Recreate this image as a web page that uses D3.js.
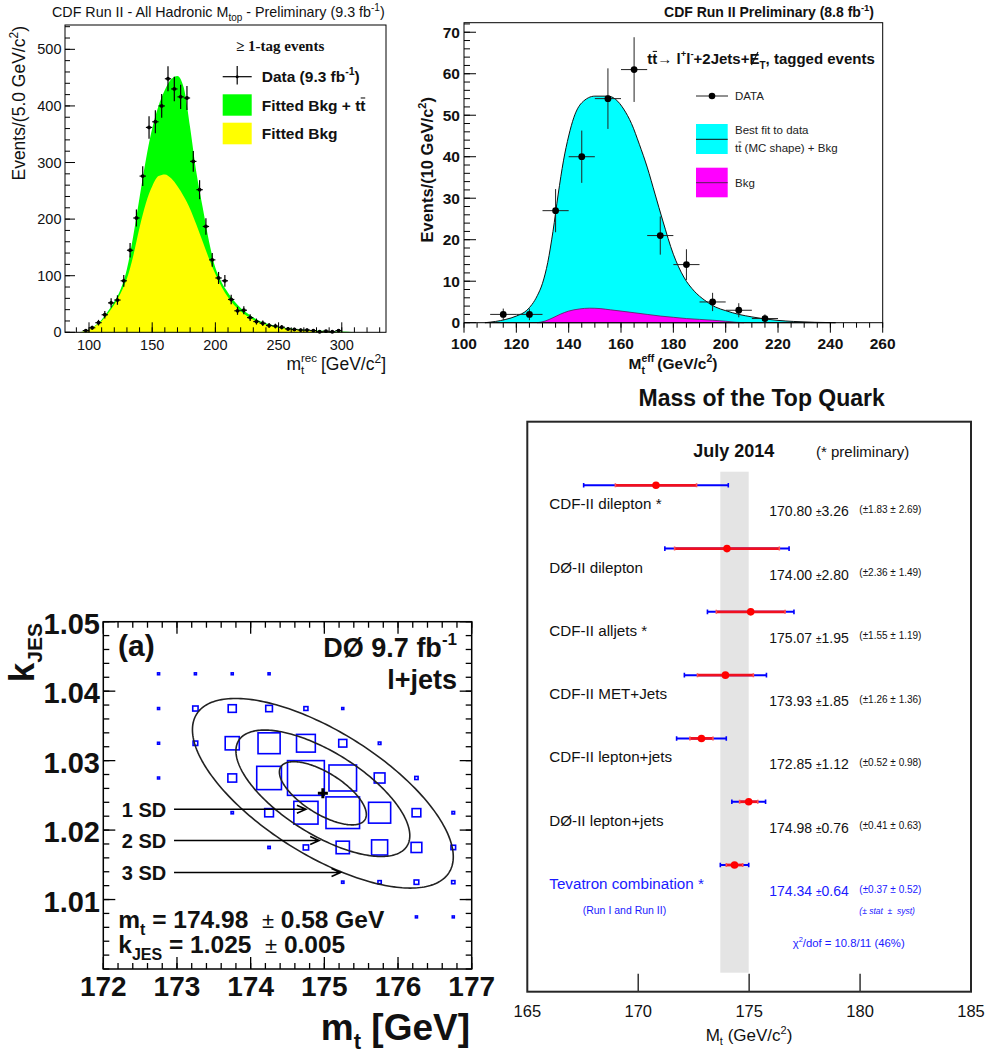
<!DOCTYPE html>
<html>
<head>
<meta charset="utf-8">
<script src="https://cdn.jsdelivr.net/npm/d3@7"></script>
<style>
  body { margin: 0; background: #fff; }
  svg { display: block; }
  text { white-space: pre; }
</style>
</head>
<body>
<svg id="c" width="993" height="1055"></svg>
<script>
// ---------- All-hadronic reconstructed top mass (>= 1 tag) ----------
const hadCenters = [97.5, 102.5, 107.5, 112.5, 117.5, 122.5, 127.5, 132.5, 137.5, 142.5, 147.5, 152.5, 157.5, 162.5, 167.5, 172.5, 177.5, 182.5, 187.5, 192.5, 197.5, 202.5, 207.5, 212.5, 217.5, 222.5, 227.5, 232.5, 237.5, 242.5, 247.5, 252.5, 257.5, 262.5, 267.5, 272.5, 277.5, 282.5, 287.5, 292.5, 297.5];
const hadCounts = [3, 8, 17, 31, 52, 57, 91, 145, 202, 276, 362, 372, 400, 448, 430, 416, 414, 302, 252, 187, 128, 96, 91, 58, 38, 39, 26, 19, 16, 12, 11, 9, 6, 5, 4, 4, 3, 1, 2, 1, 3];
const hadErrors = [1.7, 2.8, 4.1, 5.6, 7.2, 7.5, 9.5, 12, 14.2, 16.6, 19, 19.3, 20, 21.2, 20.7, 20.4, 20.3, 17.4, 15.9, 13.7, 11.3, 9.8, 9.5, 7.6, 6.2, 6.2, 5.1, 4.4, 4, 3.5, 3.3, 3, 2.4, 2.2, 2, 2, 1.7, 1, 1.4, 1, 1.7];
const hadFitX = [92, 95, 100, 105, 110, 115, 120, 125, 130, 135, 140, 145, 150, 155, 160, 165, 170, 175, 180, 185, 190, 195, 200, 205, 210, 215, 220, 225, 230, 235, 240, 245, 250, 255, 260, 270, 280, 290, 300, 310];
const hadFitTotal = [0, 1, 5, 12, 22, 37, 54, 76, 112, 170, 238, 305, 360, 400, 428, 447, 453, 432, 362, 282, 220, 160, 114, 88, 70, 55, 43, 34, 26, 20, 16, 13, 10, 8, 6.5, 4.5, 3, 2, 1.2, 0];
const hadFitBkg = [0, 1, 5, 11, 20, 33, 49, 69, 95, 135, 185, 228, 258, 276, 279, 272, 258, 240, 218, 190, 160, 130, 103, 80, 62, 48, 37, 29, 22, 17, 13.5, 10.5, 8.2, 6.5, 5.2, 3.3, 2, 1, 0.5, 0];
const hadYTicks = [0, 100, 200, 300, 400, 500];
const hadXTicks = [100, 150, 200, 250, 300];

// ---------- Dilepton M_t^eff (tagged) ----------
const dilepCenters = [115, 125, 135, 145, 155, 165, 175, 185, 195, 205, 215];
const dilepCounts = [2, 2, 27, 40, 54, 61, 21, 14, 5, 3, 1];
const dilepErrors = [1.4, 1.4, 5.2, 6.3, 7.3, 7.8, 4.6, 3.7, 2.2, 1.7, 1];
const dilepFitX = [108, 112, 116, 120, 124, 128, 130, 132, 134, 136, 138, 140, 142, 145, 150, 155, 158, 161, 164, 167, 170, 173, 176, 180, 184, 188, 192, 196, 200, 205, 210, 215, 220, 226, 234, 242];
const dilepFitTotal = [0, 0.3, 0.8, 1.6, 3, 6.5, 9.5, 14.5, 22, 31, 39, 45, 49.5, 53, 54.6, 54.6, 53.8, 51.5, 48, 43, 37.5, 31, 24.5, 16.5, 11, 7.6, 5.4, 3.8, 2.9, 2, 1.4, 0.9, 0.55, 0.3, 0.1, 0];
const dilepBkgX = [128, 131, 134, 137, 140, 144, 148, 152, 156, 160, 165, 170, 175, 180, 185, 190, 195, 200, 204, 207];
const dilepBkg = [0, 0.4, 1.2, 2.1, 2.8, 3.3, 3.5, 3.4, 3.1, 2.8, 2.4, 2.0, 1.6, 1.3, 1.0, 0.8, 0.6, 0.35, 0.1, 0];
const dilepYTicks = [0, 10, 20, 30, 40, 50, 60, 70];
const dilepXTicks = [100, 120, 140, 160, 180, 200, 220, 240, 260];

// ---------- D0 l+jets: m_t vs k_JES likelihood ----------
const boxMt = [172.75, 173.25, 173.75, 174.25,
  172.75, 173.25, 173.75, 174.25, 174.75, 175.25,
  172.75, 173.25, 173.75, 174.25, 174.75, 175.25, 175.75,
  172.75, 173.75, 174.25, 174.75, 175.25, 175.75, 176.25,
  173.75, 174.25, 174.75, 175.25, 175.75, 176.25, 176.75,
  174.25, 174.75, 175.25, 175.75, 176.25, 176.75,
  175.25, 175.75, 176.25, 176.75,
  176.25, 176.75];
const boxK = [1.0425, 1.0425, 1.0425, 1.0425,
  1.0375, 1.0375, 1.0375, 1.0375, 1.0375, 1.0375,
  1.0325, 1.0325, 1.0325, 1.0325, 1.0325, 1.0325, 1.0325,
  1.0275, 1.0275, 1.0275, 1.0275, 1.0275, 1.0275, 1.0275,
  1.0225, 1.0225, 1.0225, 1.0225, 1.0225, 1.0225, 1.0225,
  1.0175, 1.0175, 1.0175, 1.0175, 1.0175, 1.0175,
  1.0125, 1.0125, 1.0125, 1.0125,
  1.0075, 1.0075];
const boxContent = [0.3, 0.3, 0.3, 0.3,
  0.3, 2.1, 4.8, 3.3, 1.2, 0.3,
  0.3, 1.6, 14.6, 36, 26, 4.8, 0.5,
  0.3, 5.6, 45, 100, 56, 8.5, 0.8,
  0.4, 5.6, 43, 83, 36, 5.6, 0.5,
  0.4, 2.1, 13, 19, 8.5, 1.6,
  0.4, 0.8, 1.6, 0.8,
  0.3, 0.3];
const fitMt = 174.98, fitK = 1.0253, sigmaMt = 0.59, sigmaK = 0.00455, rhoMtK = -0.67;
const contourLevels = [1, 2, 3];
const sdLabels = ["1 SD", "2 SD", "3 SD"];
const sdArrowK = [1.023, 1.0185, 1.0139];
const sdArrowTipMt = [174.75, 174.93, 175.22];
const mtTicks = [172, 173, 174, 175, 176, 177];
const kTicks = [1.01, 1.02, 1.03, 1.04, 1.05];

// ---------- Tevatron top-quark mass summary ----------
const expNames = ["CDF-II dilepton *", "DØ-II dilepton", "CDF-II alljets *", "CDF-II MET+Jets", "CDF-II lepton+jets", "DØ-II lepton+jets", "Tevatron combination *"];
const expMass = [170.80, 174.00, 175.07, 173.93, 172.85, 174.98, 174.34];
const expTotal = [3.26, 2.80, 1.95, 1.85, 1.12, 0.76, 0.64];
const expStat = [1.83, 2.36, 1.55, 1.26, 0.52, 0.41, 0.37];
const expSyst = [2.69, 1.49, 1.19, 1.36, 0.98, 0.63, 0.52];
const massTicks = [165, 170, 175, 180, 185];

// ---------- helpers ----------
const FONT = '"Liberation Sans", Arial, Helvetica, sans-serif';
const svg = d3.select('#c');

// Draws a run of text pieces (sub/superscripts, overbars, slashes) left to right.
function rich(parent, x, y, parts, opt = {}) {
  const outer = parent.append('g')
    .attr('transform', `translate(${x},${y})` + (opt.rotate ? ` rotate(${opt.rotate})` : ''));
  const g = outer.append('g');
  let cx = 0, stack = null;
  const base = opt.size || 12;
  for (const p of parts) {
    const size = p.size || base;
    const dy = p.dy || 0;
    const color = p.fill || opt.fill || '#000';
    const t = g.append('text').attr('x', cx).attr('y', dy).text(p.t)
      .attr('font-family', p.family || opt.family || FONT)
      .attr('font-size', size)
      .attr('font-weight', p.weight || opt.weight || 'normal')
      .attr('font-style', (p.italic || opt.italic) ? 'italic' : 'normal')
      .attr('fill', color);
    const w = t.node().getComputedTextLength();
    if (p.overline) {
      g.append('line').attr('x1', cx + w * 0.08).attr('x2', cx + w * 0.95)
        .attr('y1', dy - size * 0.84).attr('y2', dy - size * 0.84)
        .attr('stroke', color).attr('stroke-width', size * 0.07);
    }
    if (p.slash) {
      g.append('line').attr('x1', cx + w * 0.2).attr('x2', cx + w * 0.85)
        .attr('y1', dy + size * 0.06).attr('y2', dy - size * 0.8)
        .attr('stroke', color).attr('stroke-width', size * 0.08);
    }
    if (p.stack) stack = { x: cx, w };
    else if (stack) { cx = stack.x + Math.max(stack.w, w); stack = null; }
    else cx += w;
    cx += p.gap || 0;
  }
  const shift = opt.anchor === 'end' ? -cx : opt.anchor === 'middle' ? -cx / 2 : 0;
  g.attr('transform', `translate(${shift},0)`);
  return outer;
}

function vTicks(g, scale, vals, y0, len, sw, color) {
  g.append('g').selectAll('line').data(vals).join('line')
    .attr('x1', d => scale(d)).attr('x2', d => scale(d))
    .attr('y1', y0).attr('y2', y0 + len)
    .attr('stroke', color || '#000').attr('stroke-width', sw || 1);
}
function hTicks(g, scale, vals, x0, len, sw, color) {
  g.append('g').selectAll('line').data(vals).join('line')
    .attr('y1', d => scale(d)).attr('y2', d => scale(d))
    .attr('x1', x0).attr('x2', x0 + len)
    .attr('stroke', color || '#000').attr('stroke-width', sw || 1);
}
const step = (a, b, s) => d3.range(Math.round(a / s), Math.round(b / s) + 1).map(i => +(i * s).toFixed(6));

// =========================================================
// Panel: CDF all-hadronic
// =========================================================
{
  const P = { l: 65, r: 386, t: 25, b: 332.3 };
  const x = d3.scaleLinear().domain([81, 335]).range([P.l, P.r]);
  const y = d3.scaleLinear().domain([0, 543]).range([P.b, P.t]);
  const g = svg.append('g');
  const fit = hadFitX.map((v, i) => ({ x: v, tot: hadFitTotal[i], bkg: hadFitBkg[i] }));

  g.append('path').datum(fit)
    .attr('d', d3.area().x(d => x(d.x)).y0(y(0)).y1(d => y(d.tot)).curve(d3.curveMonotoneX))
    .attr('fill', '#00ff00');
  g.append('path').datum(fit)
    .attr('d', d3.area().x(d => x(d.x)).y0(y(0)).y1(d => y(d.bkg)).curve(d3.curveMonotoneX))
    .attr('fill', '#ffff00');

  // data points with error bars
  const pts = g.append('g').attr('stroke', '#000').attr('stroke-width', 1.2);
  hadCenters.forEach((c, i) => {
    const n = hadCounts[i], e = hadErrors[i];
    pts.append('line').attr('x1', x(c)).attr('x2', x(c)).attr('y1', y(n - e) + 0.5).attr('y2', y(n + e) - 0.5);
    pts.append('line').attr('x1', x(c - 2.5)).attr('x2', x(c + 2.5)).attr('y1', y(n)).attr('y2', y(n));
    pts.append('circle').attr('cx', x(c)).attr('cy', y(n)).attr('r', 1.3).attr('fill', '#000');
  });

  g.append('rect').attr('x', P.l).attr('y', P.t).attr('width', P.r - P.l).attr('height', P.b - P.t)
    .attr('fill', 'none').attr('stroke', '#000').attr('stroke-width', 1);
  hTicks(g, y, step(0, 540, 20), P.l, 5);
  hTicks(g, y, hadYTicks, P.l, 10);
  vTicks(g, x, step(90, 330, 10), P.b, -5);
  vTicks(g, x, hadXTicks, P.b, -10);

  g.append('g').selectAll('text').data(hadYTicks).join('text')
    .attr('x', 61.5).attr('y', d => y(d) + 5).attr('text-anchor', 'end')
    .attr('font-family', FONT).attr('font-size', 14.5).attr('fill', '#111').text(d => d);
  g.append('g').selectAll('text').data(hadXTicks).join('text')
    .attr('x', d => x(d)).attr('y', 350).attr('text-anchor', 'middle')
    .attr('font-family', FONT).attr('font-size', 14.5).attr('fill', '#111').text(d => d);

  rich(g, 52, 16.5, [
    { t: 'CDF Run II - All Hadronic M' }, { t: 'top', size: 10, dy: 4 },
    { t: ' - Preliminary (9.3 fb' }, { t: '-1', size: 10, dy: -6 }, { t: ')' }
  ], { size: 14.3, fill: '#111' });

  rich(g, 25, 26, [
    { t: 'Events/(5.0 GeV/c' }, { t: '2', size: 12, dy: -7 }, { t: ')' }
  ], { size: 17.5, rotate: -90, anchor: 'end', fill: '#111' });

  rich(g, 386, 370, [
    { t: 'm' }, { t: 'rec', size: 11.5, dy: -8, stack: true }, { t: 't', size: 11.5, dy: 4, gap: 4 },
    { t: '[GeV/c' }, { t: '2', size: 12, dy: -7 }, { t: ']' }
  ], { size: 17.5, anchor: 'end', fill: '#111' });

  // legend
  rich(g, 236, 50.5, [{ t: '≥ 1-tag events' }],
    { size: 15, weight: 'bold', family: '"Liberation Serif", "Times New Roman", serif', fill: '#111' });
  const lg = g.append('g');
  lg.append('line').attr('x1', 222.7).attr('x2', 251.7).attr('y1', 76.7).attr('y2', 76.7).attr('stroke', '#000').attr('stroke-width', 1.2);
  lg.append('line').attr('x1', 237.2).attr('x2', 237.2).attr('y1', 66).attr('y2', 84.5).attr('stroke', '#000').attr('stroke-width', 1.2);
  lg.append('circle').attr('cx', 237.2).attr('cy', 76.7).attr('r', 1.5).attr('fill', '#000');
  lg.append('rect').attr('x', 222.7).attr('y', 94.3).attr('width', 29).attr('height', 21.4).attr('fill', '#00ff00');
  lg.append('rect').attr('x', 222.7).attr('y', 122.7).attr('width', 29).attr('height', 21.6).attr('fill', '#ffff00');
  rich(g, 261.7, 82, [{ t: 'Data (9.3 fb' }, { t: '-1', size: 10.5, dy: -7 }, { t: ')' }], { size: 15.5, weight: 'bold', fill: '#111' });
  rich(g, 261.7, 111, [{ t: 'Fitted Bkg + t' }, { t: 't', overline: true }], { size: 15.5, weight: 'bold', fill: '#111' });
  rich(g, 261.7, 138.5, [{ t: 'Fitted Bkg' }], { size: 15.5, weight: 'bold', fill: '#111' });
}

// =========================================================
// Panel: CDF dilepton M_t^eff
// =========================================================
{
  const P = { l: 464, r: 882.7, t: 22.7, b: 322.7 };
  const x = d3.scaleLinear().domain([100, 260]).range([P.l, P.r]);
  const y = d3.scaleLinear().domain([0, 72.3]).range([P.b, P.t]);
  const g = svg.append('g');
  const tot = dilepFitX.map((v, i) => ({ x: v, y: dilepFitTotal[i] }));
  const bkg = dilepBkgX.map((v, i) => ({ x: v, y: dilepBkg[i] }));
  const area = d3.area().x(d => x(d.x)).y0(y(0)).y1(d => y(d.y)).curve(d3.curveMonotoneX);
  g.append('path').datum(tot).attr('d', area).attr('fill', '#00ffff').attr('stroke', '#111').attr('stroke-width', 1);
  g.append('path').datum(bkg).attr('d', area).attr('fill', '#ff00ff').attr('stroke', '#552255').attr('stroke-width', 0.8);

  const pts = g.append('g').attr('stroke', '#222').attr('stroke-width', 1);
  dilepCenters.forEach((c, i) => {
    const n = dilepCounts[i], e = dilepErrors[i];
    pts.append('line').attr('x1', x(c)).attr('x2', x(c)).attr('y1', y(n - e)).attr('y2', y(n + e));
    pts.append('line').attr('x1', x(c - 5)).attr('x2', x(c + 5)).attr('y1', y(n)).attr('y2', y(n));
    pts.append('circle').attr('cx', x(c)).attr('cy', y(n)).attr('r', 3.4).attr('fill', '#000').attr('stroke', 'none');
  });

  g.append('rect').attr('x', P.l).attr('y', P.t).attr('width', P.r - P.l).attr('height', P.b - P.t)
    .attr('fill', 'none').attr('stroke', '#000').attr('stroke-width', 1);
  hTicks(g, y, step(0, 72, 2), P.l, 6);
  hTicks(g, y, dilepYTicks, P.l, 12);
  vTicks(g, x, step(100, 260, 5), P.b, 5);
  vTicks(g, x, dilepXTicks, P.b, 10);

  g.append('g').selectAll('text').data(dilepYTicks).join('text')
    .attr('x', 460).attr('y', d => y(d) + 5.5).attr('text-anchor', 'end')
    .attr('font-family', FONT).attr('font-size', 15.5).attr('font-weight', 'bold').attr('fill', '#111').text(d => d);
  g.append('g').selectAll('text').data(dilepXTicks).join('text')
    .attr('x', d => x(d)).attr('y', 348.5).attr('text-anchor', 'middle')
    .attr('font-family', FONT).attr('font-size', 15.5).attr('font-weight', 'bold').attr('fill', '#111').text(d => d);

  rich(g, 874, 17, [{ t: 'CDF Run II Preliminary (8.8 fb' }, { t: '-1', size: 9.5, dy: -6 }, { t: ')' }],
    { size: 14, weight: 'bold', anchor: 'end', fill: '#111' });
  rich(g, 433, 97, [{ t: 'Events/(10 GeV/c' }, { t: '2', size: 11, dy: -7 }, { t: ')' }],
    { size: 16.5, weight: 'bold', rotate: -90, anchor: 'end', fill: '#111' });
  rich(g, 673, 369, [
    { t: 'M' }, { t: 'eff', size: 10.5, dy: -7, stack: true }, { t: 't', size: 10.5, dy: 5, gap: 3 },
    { t: '(GeV/c' }, { t: '2', size: 10.5, dy: -7 }, { t: ')' }
  ], { size: 15.5, weight: 'bold', anchor: 'middle', fill: '#111' });

  rich(g, 647.3, 64, [
    { t: 't' }, { t: 't', overline: true }, { t: '→ ', weight: 'normal' }, { t: 'l' }, { t: '+', size: 9.5, dy: -7 }, { t: 'l' }, { t: '-', size: 9.5, dy: -7 },
    { t: '+2Jets+' }, { t: 'E', slash: true }, { t: 'T', size: 10, dy: 5 }, { t: ', tagged events' }
  ], { size: 15, weight: 'bold', fill: '#111' });

  const lg = g.append('g');
  lg.append('line').attr('x1', 696).attr('x2', 728).attr('y1', 96).attr('y2', 96).attr('stroke', '#222');
  lg.append('circle').attr('cx', 712).attr('cy', 96).attr('r', 3.3).attr('fill', '#000');
  lg.append('rect').attr('x', 696).attr('y', 124).attr('width', 31.7).attr('height', 30).attr('fill', '#00ffff');
  lg.append('line').attr('x1', 696).attr('x2', 727.7).attr('y1', 139.3).attr('y2', 139.3).attr('stroke', '#111');
  lg.append('rect').attr('x', 696).attr('y', 167.7).attr('width', 31.7).attr('height', 29.6).attr('fill', '#ff00ff');
  lg.append('line').attr('x1', 696).attr('x2', 727.7).attr('y1', 182.7).attr('y2', 182.7).attr('stroke', '#552255');
  rich(g, 735, 100, [{ t: 'DATA' }], { size: 11.5, fill: '#222' });
  rich(g, 735, 134, [{ t: 'Best fit to data' }], { size: 11.5, fill: '#222' });
  rich(g, 735, 151.7, [{ t: 't' }, { t: 't', overline: true }, { t: ' (MC shape) + Bkg' }], { size: 11.5, fill: '#222' });
  rich(g, 735, 187.3, [{ t: 'Bkg' }], { size: 11.5, fill: '#222' });
}

// =========================================================
// Panel: D0 l+jets (m_t, k_JES)
// =========================================================
{
  const P = { l: 103.3, r: 471.7, t: 621.7, b: 969 };
  const x = d3.scaleLinear().domain([172, 177]).range([P.l, P.r]);
  const y = d3.scaleLinear().domain([1.0, 1.05]).range([P.b, P.t]);
  const g = svg.append('g');
  const cellW = x(172.5) - x(172), cellH = y(1.0) - y(1.005);
  const frac = d3.scaleSqrt().domain([0, 100]).range([0, 1]);

  g.append('g').selectAll('rect').data(boxMt.map((m, i) => ({ m, k: boxK[i], c: boxContent[i] }))).join('rect')
    .attr('x', d => x(d.m) - Math.max(frac(d.c) * cellW, 1.6) / 2)
    .attr('y', d => y(d.k) - Math.max(frac(d.c) * cellH, 1.6) / 2)
    .attr('width', d => Math.max(frac(d.c) * cellW, 1.6))
    .attr('height', d => Math.max(frac(d.c) * cellH, 1.6))
    .attr('fill', 'none').attr('stroke', '#0000ff').attr('stroke-width', 1.6);

  // n-SD contours of the correlated Gaussian fit
  const ell = d3.line().x(d => x(d[0])).y(d => y(d[1])).curve(d3.curveLinearClosed);
  contourLevels.forEach(n => {
    const pts = d3.range(0, 240).map(i => {
      const t = i / 240 * 2 * Math.PI;
      return [fitMt + n * sigmaMt * Math.cos(t),
              fitK + n * sigmaK * (rhoMtK * Math.cos(t) + Math.sqrt(1 - rhoMtK * rhoMtK) * Math.sin(t))];
    });
    g.append('path').attr('d', ell(pts)).attr('fill', 'none').attr('stroke', '#222').attr('stroke-width', 1.6);
  });
  // best fit marker
  g.append('path').attr('d', `M${x(fitMt) - 5},${y(fitK)}H${x(fitMt) + 5}M${x(fitMt)},${y(fitK) - 5}V${y(fitK) + 5}`)
    .attr('stroke', '#000').attr('stroke-width', 3);

  // SD arrows
  sdLabels.forEach((lab, i) => {
    const yy = y(sdArrowK[i]);
    const x0 = x(172.96), x1 = x(sdArrowTipMt[i]);
    g.append('path').attr('d', `M${x0},${yy}H${x1}M${x1 - 9},${yy - 4}L${x1},${yy}L${x1 - 9},${yy + 4}`)
      .attr('fill', 'none').attr('stroke', '#000').attr('stroke-width', 1.6);
    rich(g, x(172.25), yy + 7.5, [{ t: lab }], { size: 20, weight: 'bold', fill: '#111' });
  });

  g.append('rect').attr('x', P.l).attr('y', P.t).attr('width', P.r - P.l).attr('height', P.b - P.t)
    .attr('fill', 'none').attr('stroke', '#000').attr('stroke-width', 1.5);
  const minorM = step(172, 177, 0.2), minorK = step(1.0, 1.05, 0.002);
  vTicks(g, x, minorM, P.b, -6, 1.3); vTicks(g, x, mtTicks, P.b, -12, 1.3);
  vTicks(g, x, minorM, P.t, 6, 1.3); vTicks(g, x, mtTicks, P.t, 12, 1.3);
  hTicks(g, y, minorK, P.l, 6, 1.3); hTicks(g, y, kTicks, P.l, 12, 1.3);
  hTicks(g, y, minorK, P.r, -6, 1.3); hTicks(g, y, kTicks, P.r, -12, 1.3);

  g.append('g').selectAll('text').data(mtTicks).join('text')
    .attr('x', d => x(d)).attr('y', 996).attr('text-anchor', 'middle')
    .attr('font-family', FONT).attr('font-size', 28).attr('font-weight', 'bold').attr('fill', '#111').text(d => d);
  g.append('g').selectAll('text').data(kTicks).join('text')
    .attr('x', 100).attr('y', d => y(d) + 12).attr('text-anchor', 'end')
    .attr('font-family', FONT).attr('font-size', 29).attr('font-weight', 'bold').attr('fill', '#111').text(d => d.toFixed(2));

  rich(g, 34, 623, [{ t: 'k' }, { t: 'JES', size: 21, dy: 8 }],
    { size: 35, weight: 'bold', rotate: -90, anchor: 'end', fill: '#111' });
  rich(g, 470, 1040, [{ t: 'm' }, { t: 't', size: 22, dy: 9 }, { t: ' [GeV]' }],
    { size: 37, weight: 'bold', anchor: 'end', fill: '#111' });

  rich(g, 118, 656, [{ t: '(a)' }], { size: 30, weight: 'bold', fill: '#111' });
  rich(g, 457, 657, [{ t: 'DØ 9.7 fb' }, { t: '-1', size: 17, dy: -12 }], { size: 27, weight: 'bold', anchor: 'end', fill: '#111' });
  rich(g, 457, 689, [{ t: 'l+jets' }], { size: 27, weight: 'bold', anchor: 'end', fill: '#111' });

  rich(g, 118.3, 928.3, [
    { t: 'm' }, { t: 't', size: 16, dy: 7 }, { t: ' = 174.98  ' }, { t: '±', weight: 'normal', size: 22 }, { t: ' 0.58 GeV' }
  ], { size: 24.5, weight: 'bold', fill: '#111' });
  rich(g, 118.3, 953.3, [
    { t: 'k' }, { t: 'JES', size: 16, dy: 7 }, { t: ' = 1.025  ' }, { t: '±', weight: 'normal', size: 22 }, { t: ' 0.005' }
  ], { size: 24.5, weight: 'bold', fill: '#111' });
}

// =========================================================
// Panel: Tevatron top-quark mass summary
// =========================================================
{
  const P = { l: 527.3, r: 971, t: 421.7, b: 991.7 };
  const x = d3.scaleLinear().domain([165, 185]).range([P.l, P.r]);
  const row = d3.scalePoint().domain(expNames).range([485.3, 865]);
  const g = svg.append('g');
  const blue = '#0000ff', txtBlue = '#1a1aff';
  const comb = expNames.length - 1;

  rich(g, 761.7, 406, [{ t: 'Mass of the Top Quark' }], { size: 23, weight: 'bold', anchor: 'middle', fill: '#111' });

  // combined-value band
  g.append('rect').attr('x', x(expMass[comb] - expTotal[comb])).attr('y', 471.7)
    .attr('width', x(expMass[comb] + expTotal[comb]) - x(expMass[comb] - expTotal[comb]))
    .attr('height', 972.7 - 471.7).attr('fill', '#e4e4e4');

  rich(g, 693.3, 457.3, [{ t: 'July 2014' }], { size: 18, weight: 'bold', fill: '#111' });
  rich(g, 816, 456.7, [{ t: '(* preliminary)' }], { size: 15, fill: '#111' });

  expNames.forEach((name, i) => {
    const yy = row(name);
    const m = expMass[i], tot = expTotal[i], st = expStat[i];
    const col = i === comb ? txtBlue : '#111';
    g.append('line').attr('x1', x(m - tot)).attr('x2', x(m + tot)).attr('y1', yy).attr('y2', yy)
      .attr('stroke', blue).attr('stroke-width', 2);
    g.append('path').attr('d', `M${x(m - tot)},${yy - 2.3}V${yy + 2.3}M${x(m + tot)},${yy - 2.3}V${yy + 2.3}`)
      .attr('stroke', blue).attr('stroke-width', 1.6);
    g.append('line').attr('x1', x(m - st)).attr('x2', x(m + st)).attr('y1', yy).attr('y2', yy)
      .attr('stroke', '#f01020').attr('stroke-width', 2.8);
    g.append('path').attr('d', `M${x(m - st)},${yy - 2}V${yy + 2}M${x(m + st)},${yy - 2}V${yy + 2}`)
      .attr('stroke', '#ff5050').attr('stroke-width', 1.6);
    g.append('circle').attr('cx', x(m)).attr('cy', yy).attr('r', 3.8).attr('fill', '#ff0000');

    rich(g, 549.3, yy + 24, [{ t: name }], { size: 15.2, fill: col });
    rich(g, 769.3, yy + 31, [{ t: m.toFixed(2) + ' ' }, { t: '±', size: 10 }, { t: tot.toFixed(2) }], { size: 14, fill: col });
    rich(g, 859.3, yy + 27.5, [{ t: '(±' + st.toFixed(2) + ' ± ' + expSyst[i].toFixed(2) + ')' }], { size: 10, fill: col });
  });
  const yc = row(expNames[comb]);
  rich(g, 582.7, yc + 49, [{ t: '(Run I and Run II)' }], { size: 10.5, fill: txtBlue });
  rich(g, 859.3, yc + 49, [{ t: '(± stat  ±  syst)' }], { size: 8.5, italic: true, fill: txtBlue });
  rich(g, 792.7, yc + 82, [{ t: 'χ' }, { t: '2', size: 7.5, dy: -5 }, { t: '/dof = 10.8/11 (46%)' }], { size: 11.3, fill: txtBlue });

  g.append('rect').attr('x', P.l).attr('y', P.t).attr('width', P.r - P.l).attr('height', P.b - P.t)
    .attr('fill', 'none').attr('stroke', '#262626').attr('stroke-width', 2);
  vTicks(g, x, [170, 175, 180], P.b, -18, 1.5, '#333');

  g.append('g').selectAll('text').data(massTicks).join('text')
    .attr('x', d => x(d)).attr('y', 1016.5).attr('text-anchor', 'middle')
    .attr('font-family', FONT).attr('font-size', 16.5).attr('fill', '#111').text(d => d);
  rich(g, 749, 1041, [{ t: 'M' }, { t: 't', size: 11, dy: 4 }, { t: ' (GeV/c' }, { t: '2', size: 11, dy: -7 }, { t: ')' }],
    { size: 17, anchor: 'middle', fill: '#111' });
}
</script>
</body>
</html>
